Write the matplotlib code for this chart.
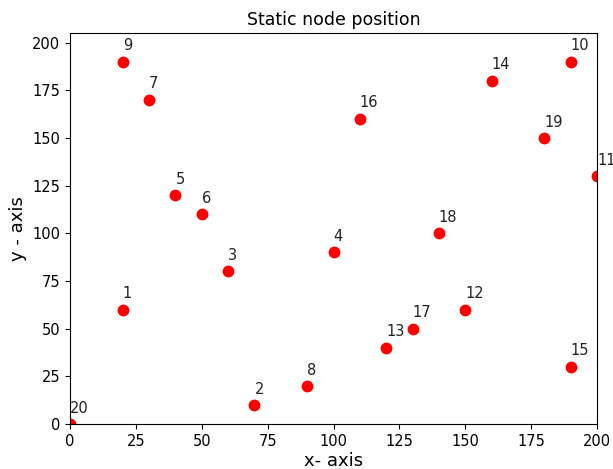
import matplotlib
matplotlib.use("Agg")
import matplotlib.pyplot as plt

node_ids = list(range(1, 21))
xs = [20, 70, 60, 100, 40, 50, 30, 90, 20, 190, 200, 150, 120, 160, 190, 110, 130, 140, 180, 0]
ys = [60, 10, 80, 90, 120, 110, 170, 20, 190, 190, 130, 60, 40, 180, 30, 160, 50, 100, 150, 0]

fig = plt.figure(figsize=(6.13, 4.69), dpi=100)
ax = fig.add_axes([70/613, 45/469, 527/613, 391/469])
ax.plot(xs, ys, 'o', color='red', markersize=7.5, linestyle='none')
for i, x, y in zip(node_ids, xs, ys):
    ax.annotate(str(i), (x, y), xytext=(0, 6), textcoords='offset points',
                fontsize=10.5, ha='left', va='bottom', color='#222222')
ax.set_xlim(0, 200)
ax.set_ylim(0, 205)
ax.set_title("Static node position", fontsize=12.5)
ax.set_xlabel("x- axis", fontsize=13, labelpad=2)
ax.set_ylabel("y - axis", fontsize=13)
ax.tick_params(labelsize=10.5)
fig.savefig("out.png", dpi=100)
